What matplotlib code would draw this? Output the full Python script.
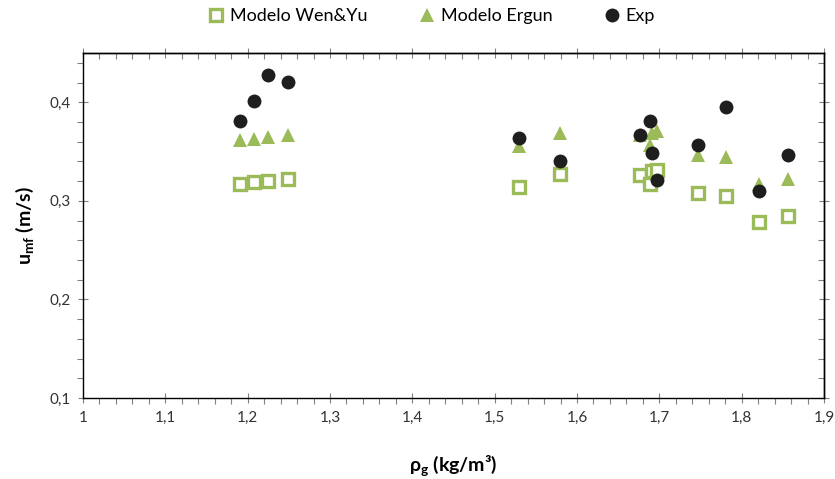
import matplotlib
matplotlib.use("Agg")
import matplotlib.pyplot as plt
from matplotlib.ticker import MultipleLocator, FuncFormatter

plt.rcParams['font.family'] = ['Lato', 'DejaVu Sans']
plt.rcParams['mathtext.fontset'] = 'custom'
plt.rcParams['mathtext.rm'] = 'Lato'
plt.rcParams['mathtext.bf'] = 'Lato:bold'
plt.rcParams['mathtext.it'] = 'Lato:italic'

density = [1.191, 1.208, 1.225, 1.249, 1.530, 1.579, 1.677, 1.689, 1.691, 1.697, 1.747, 1.781, 1.821, 1.856]
wen_yu = [0.3176, 0.3187, 0.3197, 0.3217, 0.3143, 0.3268, 0.3258, 0.3166, 0.3300, 0.3310, 0.3075, 0.3054, 0.2783, 0.2844]
ergun = [0.362, 0.363, 0.365, 0.367, 0.3556, 0.3685, 0.3665, 0.357, 0.369, 0.371, 0.3465, 0.3443, 0.3175, 0.3224]
exp = [0.381, 0.401, 0.4275, 0.421, 0.364, 0.340, 0.3665, 0.381, 0.349, 0.321, 0.3565, 0.3955, 0.3105, 0.347]

green = '#9BBB59'
fig = plt.figure(figsize=(8.35, 4.79), dpi=100)
ax = fig.add_axes([83/835, 1-398/479, (824-83)/835, (398-53)/479])

ax.plot(density, wen_yu, linestyle='none', marker='s', markersize=8, markerfacecolor='white',
        markeredgecolor=green, markeredgewidth=2.4, label='Modelo Wen&Yu', zorder=3)
ax.plot(density, ergun, linestyle='none', marker='^', markersize=10, markerfacecolor=green,
        markeredgecolor=green, markeredgewidth=0, label='Modelo Ergun', zorder=4)
ax.plot(density, exp, linestyle='none', marker='o', markersize=10, markerfacecolor='#1e1e1e',
        markeredgecolor='#1e1e1e', markeredgewidth=0, label='Exp', zorder=5)

ax.set_xlim(1.0, 1.9)
ax.set_ylim(0.1, 0.45)
ax.xaxis.set_major_locator(MultipleLocator(0.1))
ax.xaxis.set_minor_locator(MultipleLocator(0.02))
ax.yaxis.set_major_locator(MultipleLocator(0.1))
ax.yaxis.set_minor_locator(MultipleLocator(0.02))

def comma(v, pos):
    s = ('%.1f' % v)
    if s.endswith('.0'):
        s = s[:-2]
    return s.replace('.', ',')

ax.xaxis.set_major_formatter(FuncFormatter(comma))
ax.yaxis.set_major_formatter(FuncFormatter(comma))

for sp in ax.spines.values():
    sp.set_color('#000000')
    sp.set_linewidth(1.0)

ax.tick_params(which='major', direction='inout', length=7, width=0.8, color='#808080',
               labelsize=11, labelcolor='#333333')
ax.tick_params(which='minor', direction='out', length=4, width=0.8, color='#808080')
ax.tick_params(axis='x', pad=6)
ax.tick_params(axis='y', pad=5)

secx = ax.secondary_xaxis('top')
secx.xaxis.set_major_locator(MultipleLocator(0.1))
secx.xaxis.set_minor_locator(MultipleLocator(0.02))
secx.tick_params(which='major', direction='inout', length=7, width=0.8, color='#808080', labeltop=False)
secx.tick_params(which='minor', direction='in', length=4, width=0.8, color='#808080')
secx.spines['top'].set_linewidth(1.0)

secy = ax.secondary_yaxis('right')
secy.yaxis.set_major_locator(MultipleLocator(0.1))
secy.yaxis.set_minor_locator(MultipleLocator(0.02))
secy.tick_params(which='major', direction='inout', length=7, width=0.8, color='#808080', labelright=False)
secy.tick_params(which='minor', direction='in', length=4, width=0.8, color='#808080')
secy.spines['right'].set_linewidth(1.0)

ax.set_xlabel('ρ$_\\mathbf{g}$ (kg/m³)', fontsize=14, fontweight='bold', labelpad=20)
ax.set_ylabel('$\\mathbf{u}_\\mathbf{mf}$ (m/s)', fontsize=14, fontweight='bold', labelpad=10)

fig.legend(loc='center', bbox_to_anchor=(431/835, 1-16/479), ncol=3, frameon=False,
           fontsize=13, handletextpad=0.25, columnspacing=2.8, handlelength=1.0,
           borderaxespad=0)

fig.savefig('out.png', dpi=100)
